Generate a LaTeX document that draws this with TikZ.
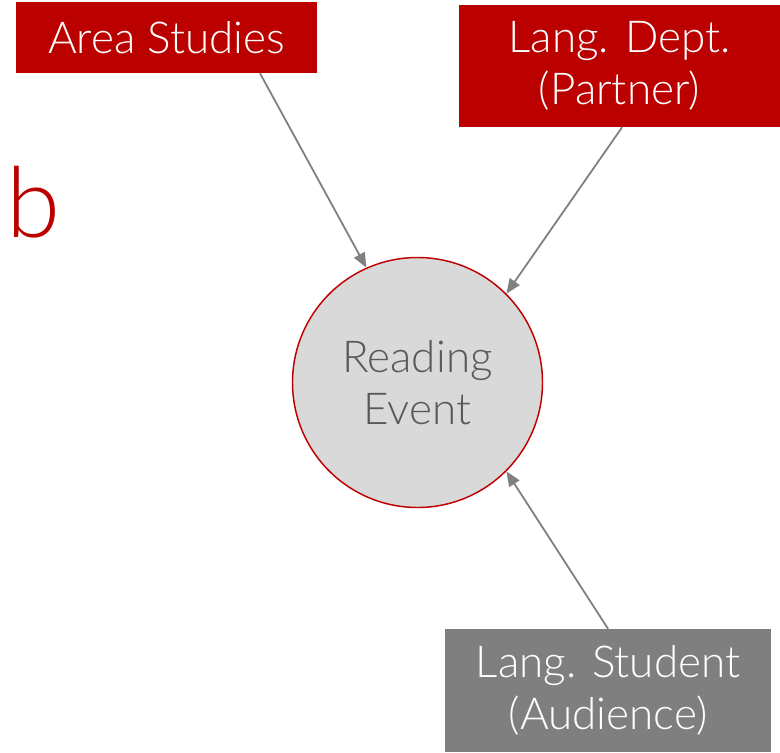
\documentclass[tikz,border=0pt]{standalone}
\usepackage{fontspec}
\setmainfont{Lato}[UprightFont={* Light}]
\usetikzlibrary{arrows.meta,calc}
\definecolor{boxred}{HTML}{BB0000}
\definecolor{ringred}{HTML}{C00000}
\definecolor{boxgray}{HTML}{7F7F7F}
\definecolor{circfill}{HTML}{D9D9D9}
\definecolor{circtext}{HTML}{595959}
\definecolor{arrowgray}{HTML}{808080}
\tikzset{
  labelbox/.style={rectangle, inner sep=0pt, text=white, align=center,
    font=\fontsize{33}{39}\selectfont},
  redbox/.style={labelbox, fill=boxred},
  graybox/.style={labelbox, fill=boxgray},
  eventcircle/.style={circle, inner sep=0pt, minimum size=187.5pt, fill=circfill,
    draw=ringred, line width=1.1pt, text=circtext, align=center,
    font=\fontsize{33}{39}\selectfont},
  link/.style={draw=arrowgray, line width=1.35pt, -{Triangle[length=11pt,width=9pt]}},
}
\begin{document}
\begin{tikzpicture}[x=0.75pt,y=-0.75pt]
\useasboundingbox (0,0) rectangle (780,752);
\node[redbox, minimum width=225.75pt, minimum height=53.25pt] (as) at (166.5,37.5) {Area Studies};
\node[redbox, minimum width=240.75pt, minimum height=91.5pt] (ld) at (619.5,66) {Lang. Dept.\\(Partner)};
\node[graybox, minimum width=244.5pt, minimum height=92.25pt] (ls) at (608,690.5) {Lang. Student\\(Audience)};
\node[eventcircle] (ev) at (417.5,382.5) {Reading\\Event};
\node[anchor=base, inner sep=0pt, text=boxred, font=\fontsize{73.5}{80}\selectfont] (b) at (33,237) {b};
\draw[link] ($(as.south west)!0.81!(as.south east)$) -- (ev.114);
\draw[link] ($(ld.south west)!0.508!(ld.south east)$) -- (ev.45);
\draw[link] (ls.north) -- (ev.-45);
\end{tikzpicture}
\end{document}
